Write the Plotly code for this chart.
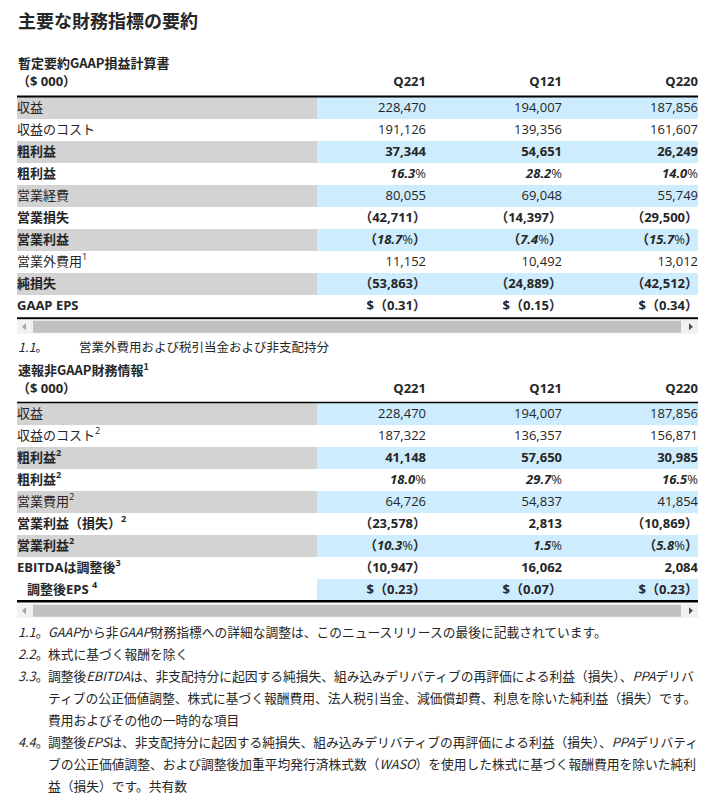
import plotly.graph_objects as go

# ---- data ----
quarters = ["Q221", "Q121", "Q220"]

gaap_labels = ["収益", "収益のコスト", "粗利益", "粗利益", "営業経費", "営業損失",
               "営業利益", "営業外費用<sup>1</sup>", "純損失", "GAAP EPS"]
gaap_q221 = [228470, 191126, 37344, 16.3, 80055, -42711, -18.7, 11152, -53863, -0.31]
gaap_q121 = [194007, 139356, 54651, 28.2, 69048, -14397, -7.4, 10492, -24889, -0.15]
gaap_q220 = [187856, 161607, 26249, 14.0, 55749, -29500, -15.7, 13012, -42512, -0.34]
gaap_kind = ["num", "num", "num", "pct", "num", "num", "pct", "num", "num", "eps"]

nongaap_labels = ["収益", "収益のコスト<sup>2</sup>", "粗利益<sup>2</sup>", "粗利益<sup>2</sup>",
                  "営業費用<sup>2</sup>", "営業利益（損失）<sup>2</sup>", "営業利益<sup>2</sup>",
                  "EBITDAは調整後<sup>3</sup>", "調整後EPS <sup>4</sup>"]
nongaap_q221 = [228470, 187322, 41148, 18.0, 64726, -23578, -10.3, -10947, -0.23]
nongaap_q121 = [194007, 136357, 57650, 29.7, 54837, 2813, 1.5, 16062, -0.07]
nongaap_q220 = [187856, 156871, 30985, 16.5, 41854, -10869, -5.8, 2084, -0.23]
nongaap_kind = ["num", "num", "num", "pct", "num", "num", "pct", "num", "eps"]

title = "主要な財務指標の要約"
gaap_title = "暫定要約GAAP損益計算書"
nongaap_title = "速報非GAAP財務情報<sup>1</sup>"
unit_label = "（$ 000）"
gaap_notes = [("<i>1.1</i>。", "営業外費用および税引当金および非支配持分")]
nongaap_notes = [
    ("<i>1.1</i>。", "<i>GAAP</i>から非<i>GAAP</i>財務指標への詳細な調整は、このニュースリリースの最後に記載されています。"),
    ("<i>2.2</i>。", "株式に基づく報酬を除く"),
    ("<i>3.3</i>。", "調整後<i>EBITDA</i>は、非支配持分に起因する純損失、組み込みデリバティブの再評価による利益（損失）、<i>PPA</i>デリバ"),
    ("", "ティブの公正価値調整、株式に基づく報酬費用、法人税引当金、減価償却費、利息を除いた純利益（損失）です。"),
    ("", "費用およびその他の一時的な項目"),
    ("<i>4.4</i>。", "調整後<i>EPS</i>は、非支配持分に起因する純損失、組み込みデリバティブの再評価による利益（損失）、<i>PPA</i>デリバティ"),
    ("", "ブの公正価値調整、および調整後加重平均発行済株式数（<i>WASO</i>）を使用した株式に基づく報酬費用を除いた純利"),
    ("", "益（損失）です。共有数"),
]

# ---- styles ----
gaap_bold = [0, 0, 1, 1, 0, 1, 1, 0, 1, 1]
gaap_label_fill = [1, 0, 1, 0, 1, 0, 1, 0, 1, 0]
gaap_value_fill = [1, 0, 1, 0, 1, 0, 1, 0, 1, 0]
gaap_indent = [0] * 10
nongaap_bold = [0, 0, 1, 1, 0, 1, 1, 1, 1]
nongaap_label_fill = [1, 0, 1, 0, 1, 0, 1, 0, 0]
nongaap_value_fill = [1, 0, 1, 0, 1, 0, 1, 0, 1]
nongaap_indent = [0] * 8 + [10]

W, H = 714, 799
X0, LABEL_END, X1 = 17, 317, 698
COL_RIGHT = [426, 562, 698]
ROW_H = 22
GRAY, BLUE = "#d3d3d3", "#cdecfd"
TXT = "#262626"
FONT = "Open Sans, Noto Sans CJK JP, sans-serif"
JPFONT = "Noto Sans CJK JP, sans-serif"
FS = 13


def fmt(v, kind, bold):
    b = (lambda s: f"<b>{s}</b>") if bold else (lambda s: s)
    neg = v < 0
    a = abs(v)
    if kind == "pct":
        body = b(f"<i>{a:.1f}</i>") + "%"
        return b("（") + body + b("）") if neg else body
    if kind == "eps":
        s = f"{a:.2f}"
        return b(f"$（{s}）" if neg else f"$ {s}")
    s = f"{a:,}"
    return b(f"（{s}）" if neg else s)


def bold_label(s, bold):
    return f"<b>{s}</b>" if bold else s


def text_trace(x, y, text, pos, family=FONT):
    return go.Scatter(x=x, y=y, text=text, mode="text", textposition=pos,
                      textfont=dict(family=family, size=FS, color=TXT),
                      hoverinfo="skip", showlegend=False)


fig = go.Figure()


def draw_table(labels, cols, kinds, bold, label_fill, value_fill, indent, header_y, body_top):
    n = len(labels)
    ys = [body_top + ROW_H * (i + 0.5) for i in range(n)]
    fig.add_trace(go.Bar(
        orientation="h", y=ys, x=[LABEL_END - X0] * n, base=[X0] * n, width=ROW_H,
        marker=dict(color=[GRAY if f else "rgba(0,0,0,0)" for f in label_fill], line_width=0),
        hoverinfo="skip", showlegend=False))
    fig.add_trace(go.Bar(
        orientation="h", y=ys, x=[X1 - LABEL_END] * n, base=[LABEL_END] * n, width=ROW_H,
        marker=dict(color=[BLUE if f else "rgba(0,0,0,0)" for f in value_fill], line_width=0),
        hoverinfo="skip", showlegend=False))
    fig.add_trace(text_trace([X0 + d for d in indent], ys,
                             [bold_label(l, b) for l, b in zip(labels, bold)], "middle right"))
    for col, xr in zip(cols, COL_RIGHT):
        fig.add_trace(text_trace([xr] * n, ys,
                                 [fmt(v, k, b) for v, k, b in zip(col, kinds, bold)], "middle left"))
    # header row
    fig.add_trace(text_trace([X0], [header_y], [f"<b>{unit_label}</b>"], "middle right"))
    fig.add_trace(text_trace(COL_RIGHT, [header_y] * 3, [f"<b>{q}</b>" for q in quarters], "middle left"))
    return body_top + ROW_H * n


t1_bottom = draw_table(gaap_labels, [gaap_q221, gaap_q121, gaap_q220], gaap_kind, gaap_bold,
                       gaap_label_fill, gaap_value_fill, gaap_indent, 83, 97.3)
t2_bottom = draw_table(nongaap_labels, [nongaap_q221, nongaap_q121, nongaap_q220], nongaap_kind,
                       nongaap_bold, nongaap_label_fill, nongaap_value_fill, nongaap_indent, 390, 403.3)

shapes = []


def hrule(y, w):
    shapes.append(dict(type="line", xref="x", yref="y", x0=X0, x1=X1, y0=y, y1=y,
                       line=dict(color="#000", width=w)))


def scrollbar(top):
    shapes.append(dict(type="rect", xref="x", yref="y", x0=X0, x1=X1, y0=top, y1=top + 14,
                       fillcolor="#f1f1f1", line_width=0))
    shapes.append(dict(type="rect", xref="x", yref="y", x0=X0 + 16, x1=X1 - 17, y0=top + 1, y1=top + 13,
                       fillcolor="#c1c1c1", line_width=0))
    c = top + 7
    shapes.append(dict(type="path", xref="x", yref="y",
                       path=f"M {X0+5},{c} L {X0+9},{c-3.5} L {X0+9},{c+3.5} Z",
                       fillcolor="#a3a3a3", line_width=0))
    shapes.append(dict(type="path", xref="x", yref="y",
                       path=f"M {X1-5},{c} L {X1-9},{c-3.5} L {X1-9},{c+3.5} Z",
                       fillcolor="#505050", line_width=0))


hrule(96.5, 2)
hrule(t1_bottom + 1, 2)
scrollbar(t1_bottom + 2.5)
hrule(402.6, 1.5)
hrule(t2_bottom, 2.5)
scrollbar(t2_bottom + 2.5)

annotations = []


def note(x, y, text, size=FS, family=JPFONT):
    annotations.append(dict(xref="x", yref="y", x=x, y=y, text=text, showarrow=False,
                            xanchor="left", yanchor="middle",
                            font=dict(family=family, size=size, color=TXT)))


note(X0 - 1, 20, f"<b>{title}</b>", size=18)
note(X0 - 1, 62, f"<b>{gaap_title}</b>")
for num, txt in gaap_notes:
    note(X0 - 1, 346, num, size=12.5)
    note(77, 346, txt, size=12.5)
note(X0 - 1, 369, f"<b>{nongaap_title}</b>")
for i, (num, txt) in enumerate(nongaap_notes):
    y = 631 + 22 * i
    if num:
        note(X0 - 1, y, num, size=12.75)
    note(46, y, txt, size=12.75)

fig.update_layout(
    width=W, height=H, margin=dict(l=0, r=0, t=0, b=0),
    paper_bgcolor="white", plot_bgcolor="white",
    barmode="overlay", bargap=0,
    xaxis=dict(range=[0, W], visible=False, fixedrange=True),
    yaxis=dict(range=[H, 0], visible=False, fixedrange=True),
    shapes=shapes, annotations=annotations,
    showlegend=False,
)

fig.write_html("out.html", config={"displayModeBar": False},
               post_script="document.body.style.margin='0';")
